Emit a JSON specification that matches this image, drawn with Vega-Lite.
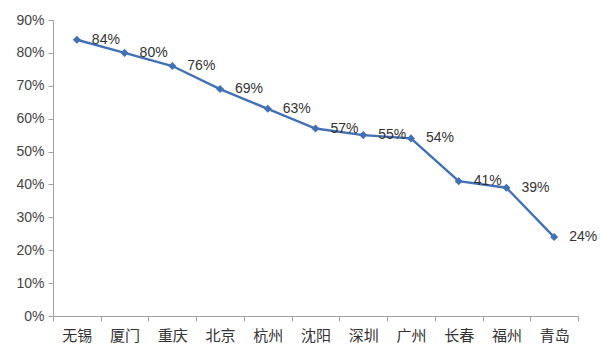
{
  "$schema": "https://vega.github.io/schema/vega-lite/v6.json",
  "width": 525,
  "height": 296,
  "autosize": {"type": "none"},
  "padding": {"left": 53, "top": 20, "right": 22, "bottom": 46},
  "background": "white",
  "config": {"view": {"stroke": null}},
  "data": {
    "values": [
      {"city": "无锡", "rate": 0.84},
      {"city": "厦门", "rate": 0.80},
      {"city": "重庆", "rate": 0.76},
      {"city": "北京", "rate": 0.69},
      {"city": "杭州", "rate": 0.63},
      {"city": "沈阳", "rate": 0.57},
      {"city": "深圳", "rate": 0.55},
      {"city": "广州", "rate": 0.54},
      {"city": "长春", "rate": 0.41},
      {"city": "福州", "rate": 0.39},
      {"city": "青岛", "rate": 0.24}
    ]
  },
  "encoding": {
    "x": {
      "field": "city", "type": "nominal", "sort": null,
      "scale": {"paddingInner": 0, "paddingOuter": 0},
      "axis": {
        "title": null, "labelAngle": 0, "labelFont": "Noto Sans CJK SC", "labelFontSize": 15,
        "labelColor": "#333333", "labelPadding": 7, "domainColor": "#a0a0a0", "tickColor": "#a0a0a0",
        "tickBand": "extent", "tickSize": 5, "grid": false
      }
    },
    "y": {
      "field": "rate", "type": "quantitative",
      "scale": {"domain": [0, 0.9], "nice": false},
      "axis": {
        "title": null, "format": ".0%", "values": [0, 0.1, 0.2, 0.3, 0.4, 0.5, 0.6, 0.7, 0.8, 0.9],
        "labelFont": "Liberation Sans", "labelFontSize": 14, "labelColor": "#444444", "labelPadding": 4,
        "domainColor": "#a0a0a0", "tickColor": "#a0a0a0", "tickSize": 5, "grid": false
      }
    }
  },
  "layer": [
    {"mark": {"type": "line", "color": "#4270b6", "strokeWidth": 2.4}},
    {"mark": {"type": "point", "shape": "diamond", "filled": true, "color": "#4270b6", "size": 65, "opacity": 1}},
    {
      "mark": {"type": "text", "align": "left", "baseline": "middle", "dx": 15, "dy": 0, "font": "Liberation Sans", "fontSize": 14, "color": "#333333"},
      "encoding": {"text": {"field": "rate", "type": "quantitative", "format": ".0%"}}
    }
  ]
}
